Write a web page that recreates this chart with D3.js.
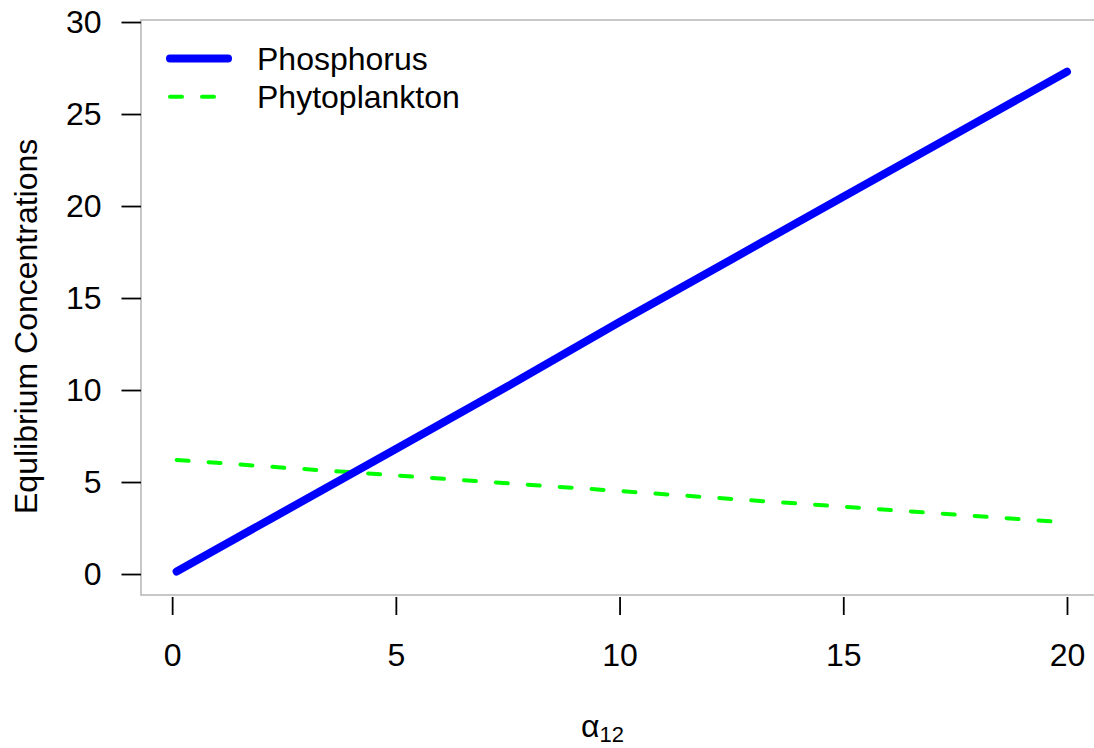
<!DOCTYPE html>
<html>
<head>
<meta charset="utf-8">
<script src="https://cdn.jsdelivr.net/npm/d3@7"></script>
<style>
  html, body { margin: 0; padding: 0; background: #fff; }
  svg { display: block; }
  text { font-family: "Liberation Sans", Arial, Helvetica, sans-serif; }
</style>
</head>
<body>
<svg id="chart" width="1094" height="748"></svg>
<script>
// ---- data ----
const alphaValues = [0.1, 2.5, 5, 7.5, 10, 12.5, 15, 17.5, 20];
const phosphorus = [0.14, 3.4, 6.8, 10.2, 13.7, 17.1, 20.5, 23.9, 27.3];
const phytoplankton = [6.2, 5.78, 5.36, 4.93, 4.51, 4.08, 3.66, 3.23, 2.8];
const xTicks = [0, 5, 10, 15, 20];
const yTicks = [0, 5, 10, 15, 20, 25, 30];
const seriesNames = ["Phosphorus", "Phytoplankton"];
const yLabel = "Equlibrium Concentrations";

// ---- layout ----
const FS = 32;
const svg = d3.select("#chart");
const x = d3.scaleLinear().domain([-0.696, 20.796]).range([141, 1102.6]);
const y = d3.scaleLinear().domain([-1.14, 30.11]).range([595, 20]);

// plot box
svg.append("rect")
  .attr("x", x.range()[0]).attr("y", y.range()[1])
  .attr("width", x.range()[1] - x.range()[0])
  .attr("height", y.range()[0] - y.range()[1])
  .attr("fill", "none").attr("stroke", "#bebebe").attr("stroke-width", 1.7);

// y axis
const yAxis = svg.append("g").attr("transform", "translate(141,0)")
  .call(d3.axisLeft(y).tickValues(yTicks).tickSize(19.5).tickPadding(20).tickFormat(d3.format("d")));
yAxis.select(".domain").remove();
yAxis.selectAll(".tick line").attr("stroke", "#000").attr("stroke-width", 1.8);
yAxis.selectAll(".tick text").attr("font-size", FS).attr("fill", "#000")
  .attr("font-family", "'Liberation Sans', Arial, sans-serif");

// x axis
const xAxis = svg.append("g").attr("transform", "translate(0,597)")
  .call(d3.axisBottom(x).tickValues(xTicks).tickSize(18).tickPadding(28.3).tickFormat(d3.format("d")));
xAxis.select(".domain").remove();
xAxis.selectAll(".tick line").attr("stroke", "#000").attr("stroke-width", 1.8);
xAxis.selectAll(".tick text").attr("font-size", FS).attr("fill", "#000")
  .attr("font-family", "'Liberation Sans', Arial, sans-serif");

// lines
const idx = d3.range(alphaValues.length);
const lineP = d3.line().x(i => x(alphaValues[i])).y(i => y(phosphorus[i]));
const lineG = d3.line().x(i => x(alphaValues[i])).y(i => y(phytoplankton[i]));

svg.append("path").attr("d", lineG(idx))
  .attr("fill", "none").attr("stroke", "#00ff00").attr("stroke-width", 4)
  .attr("stroke-linecap", "round").attr("stroke-dasharray", "12,20");

svg.append("path").attr("d", lineP(idx))
  .attr("fill", "none").attr("stroke", "#0000ff").attr("stroke-width", 8)
  .attr("stroke-linecap", "round");

// legend
const legend = svg.append("g");
legend.append("line").attr("x1", 170).attr("x2", 228).attr("y1", 58.5).attr("y2", 58.5)
  .attr("stroke", "#0000ff").attr("stroke-width", 8).attr("stroke-linecap", "round");
legend.append("line").attr("x1", 170).attr("x2", 230).attr("y1", 96.7).attr("y2", 96.7)
  .attr("stroke", "#00ff00").attr("stroke-width", 4).attr("stroke-linecap", "round")
  .attr("stroke-dasharray", "12,20");
legend.selectAll("text.leg").data(seriesNames).enter().append("text")
  .attr("class", "leg")
  .attr("x", 257).attr("y", (d, i) => 70 + i * 38.4)
  .attr("font-size", FS).attr("fill", "#000").text(d => d);

// axis titles
svg.append("text")
  .attr("transform", "translate(37,514) rotate(-90)")
  .attr("text-anchor", "start").attr("font-size", FS).attr("fill", "#000")
  .text(yLabel);

const xl = svg.append("text").attr("x", 581).attr("y", 737)
  .attr("font-size", FS).attr("fill", "#000");
xl.append("tspan").text("α");
xl.append("tspan").attr("font-size", 22).attr("dy", 5).text("12");
</script>
</body>
</html>
